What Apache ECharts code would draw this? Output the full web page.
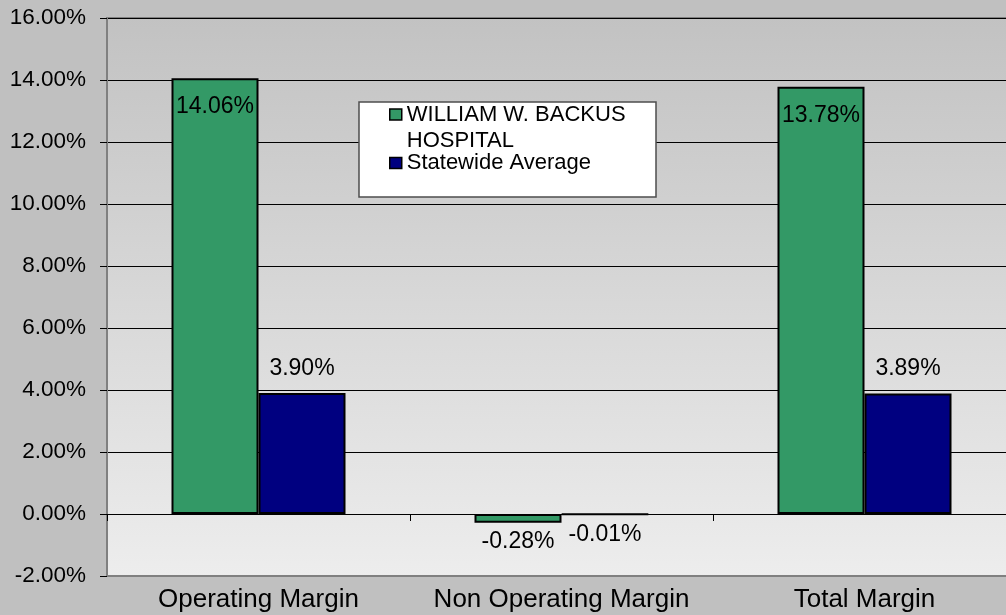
<!DOCTYPE html>
<html>
<head>
<meta charset="utf-8">
<script src="https://cdn.jsdelivr.net/npm/echarts@6/dist/echarts.min.js"></script>
<style>
  html, body { margin: 0; padding: 0; background: #c0c0c0; }
  #chart { width: 1006px; height: 615px; }
</style>
</head>
<body>
<div id="chart"></div>
<script>
const categories = ['Operating Margin', 'Non Operating Margin', 'Total Margin'];
const hospitalName = 'WILLIAM W. BACKUS HOSPITAL';
const hospitalValues = [14.06, -0.28, 13.78];
const statewideName = 'Statewide Average';
const statewideValues = [3.90, -0.01, 3.89];
const yTicks = [-2, 0, 2, 4, 6, 8, 10, 12, 14, 16];

const FONT = '"Liberation Sans", Arial, sans-serif';

function pct(v) { return v.toFixed(2) + '%'; }

const chart = echarts.init(document.getElementById('chart'), null, { renderer: 'canvas' });

const hospitalData = hospitalValues.map(v => ({
  value: v,
  label: v >= 0
    ? { position: 'insideTop', distance: 17 }
    : { position: 'bottom', distance: 7 }
}));
const statewideData = statewideValues.map(v => ({
  value: v,
  label: v >= 0
    ? { position: 'top', distance: 13 }
    : { position: 'bottom', distance: 8 }
}));

const labelCommon = {
  show: true,
  color: '#000',
  fontFamily: FONT,
  fontSize: 23,
  formatter: p => pct(p.value)
};

chart.setOption({
  backgroundColor: '#c0c0c0',
  animation: false,
  graphic: [{
    type: 'rect',
    z: 90,
    shape: { x: 359, y: 102, width: 297, height: 95 },
    style: { fill: '#ffffff', stroke: '#4d4d4d', lineWidth: 1.5 }
  }],
  legend: {
    z: 100,
    orient: 'vertical',
    left: 389,
    top: 75.5,
    padding: 0,
    itemGap: -3.5,
    itemWidth: 12,
    itemHeight: 11,
    icon: 'rect',
    itemStyle: { borderColor: '#000', borderWidth: 1.5 },
    data: [hospitalName, statewideName],
    formatter: name => name === hospitalName ? ' \nWILLIAM W. BACKUS\nHOSPITAL' : name,
    textStyle: { fontFamily: FONT, fontSize: 22, color: '#000', lineHeight: 26 }
  },
  grid: {
    left: 107, top: 18, bottom: 39, width: 909,
    outerBoundsMode: 'none',
    containLabel: false,
    show: true,
    borderColor: '#808080',
    borderWidth: 2,
    backgroundColor: {
      type: 'linear', x: 0, y: 0, x2: 0, y2: 1,
      colorStops: [
        { offset: 0, color: '#c2c2c2' },
        { offset: 1, color: '#ededed' }
      ]
    }
  },
  xAxis: [{
    type: 'category',
    data: categories,
    position: 'top',
    axisLine: { onZero: true, lineStyle: { color: '#000', width: 1 } },
    axisTick: { show: true, inside: true, length: 7, lineStyle: { color: '#000' } },
    axisLabel: { show: false },
    splitLine: { show: false }
  }, {
    type: 'category',
    data: categories,
    position: 'bottom',
    axisLine: { onZero: false, show: true, lineStyle: { color: '#808080', width: 2 } },
    axisTick: { show: false },
    axisLabel: { show: true, interval: 0, hideOverlap: false, margin: 11, color: '#000', fontFamily: FONT, fontSize: 26 },
    splitLine: { show: false }
  }],
  yAxis: {
    type: 'value',
    min: yTicks[0],
    max: yTicks[yTicks.length - 1],
    interval: 2,
    axisLine: { show: true, lineStyle: { color: '#808080', width: 2 } },
    axisTick: { show: true, length: 7, lineStyle: { color: '#000' } },
    axisLabel: { margin: 21, color: '#000', fontFamily: FONT, fontSize: 22.5, formatter: v => pct(v) },
    splitLine: { show: true, lineStyle: { color: '#000', width: 1 } }
  },
  series: [{
    name: hospitalName,
    type: 'bar',
    xAxisIndex: 0,
    data: hospitalData,
    barWidth: 87,
    barGap: '0%',
    itemStyle: { color: '#339966', borderColor: '#000', borderWidth: 2 },
    label: labelCommon
  }, {
    name: statewideName,
    type: 'bar',
    xAxisIndex: 0,
    data: statewideData,
    barWidth: 87,
    barGap: '0%',
    itemStyle: { color: '#000080', borderColor: '#000', borderWidth: 2 },
    label: labelCommon
  }]
});
</script>
</body>
</html>
